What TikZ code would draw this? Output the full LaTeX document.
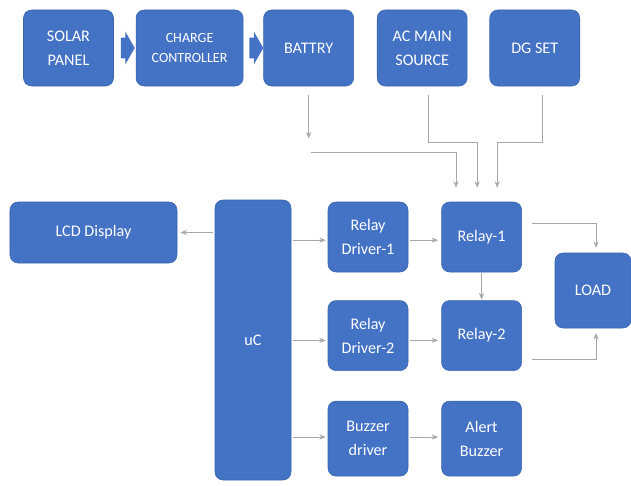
\documentclass[tikz,border=0pt]{standalone}
\usepackage{fontspec}
\setmainfont{Carlito}
\usetikzlibrary{arrows.meta, positioning, calc, shapes.arrows}
\definecolor{boxblue}{HTML}{4472C4}
\definecolor{boxedge}{HTML}{3A64AD}
\definecolor{wiregray}{HTML}{A5A7AD}

\begin{document}
\begin{tikzpicture}[
	bluebox/.style={rectangle, draw=boxedge, fill=boxblue, rounded corners=0.2cm, text=white, minimum height=1.9cm, minimum width=2.25cm, align=center, inner sep=0pt, font=\fontsize{11.5}{17}\selectfont},
	drvbox/.style={bluebox, minimum height=1.75cm, minimum width=2cm},
	blockarrow/.style={single arrow, fill=boxblue, draw=none, inner sep=0pt, text height=0.25cm, text depth=0.25cm, minimum height=0.35cm, single arrow head extend=0.15cm, single arrow tip angle=120},
	link/.style={-{Stealth[length=1.6mm, width=1.3mm]}, draw=wiregray, line width=0.6pt},
	node distance=0.55cm
	]
	\useasboundingbox (0,0) rectangle (15.775,-12.125);

	% sources
	\node[bluebox] (solar) at (1.7125,-1.2) {SOLAR\\PANEL};
	\node[bluebox, minimum width=2.675cm, font=\fontsize{10}{14}\selectfont, right=of solar] (charge-ctrl) {CHARGE\\CONTROLLER};
	\node[bluebox, right=0.5cm of charge-ctrl] (battery) {BATTRY};
	\node[bluebox, right=0.575cm of battery] (ac-main) {AC MAIN\\SOURCE};
	\node[bluebox, right=of ac-main] (dg-set) {DG SET};

	\node[blockarrow] (arr-1) at ($(solar.east)!0.5!(charge-ctrl.west)$) {};
	\node[blockarrow] (arr-2) at ($(charge-ctrl.east)!0.5!(battery.west)$) {};

	% controller side
	\node[bluebox, minimum width=4.175cm, minimum height=1.525cm] (lcd) at (2.3375,-5.8125) {LCD Display};
	\node[bluebox, minimum width=1.9cm, minimum height=7cm] (uc) at (6.325,-8.5) {uC};
	\node[drvbox] (rd-1) at (9.2,-5.925) {Relay\\Driver-1};
	\node[drvbox, below=0.7cm of rd-1] (rd-2) {Relay\\Driver-2};
	\node[drvbox, minimum height=1.875cm, below=0.75cm of rd-2] (bz-drv) {Buzzer\\driver};
	\node[drvbox, right=0.825cm of rd-1] (relay-1) {Relay-1};
	\node[drvbox, right=0.825cm of rd-2] (relay-2) {Relay-2};
	\node[drvbox, minimum height=1.875cm, right=0.825cm of bz-drv] (alert-bz) {Alert\\Buzzer};
	\node[bluebox, minimum width=1.9cm, minimum height=1.875cm] (load) at (14.825,-7.2625) {LOAD};

	\draw[link, shorten <=0.05cm, shorten >=0.08cm] (uc.west |- lcd.east) -- (lcd.east);
	\draw[link, shorten <=0.05cm, shorten >=0.05cm] ([yshift=-0.08cm]uc.east |- rd-1.west) -- ([yshift=-0.08cm]rd-1.west);
	\draw[link, shorten <=0.05cm, shorten >=0.05cm] ([yshift=-0.12cm]uc.east |- rd-2.west) -- ([yshift=-0.12cm]rd-2.west);
	\draw[link, shorten <=0.05cm, shorten >=0.05cm] ([yshift=0.04cm]uc.east |- bz-drv.west) -- ([yshift=0.04cm]bz-drv.west);
	\draw[link, shorten <=0.05cm, shorten >=0.08cm] ([yshift=-0.08cm]rd-1.east) -- ([yshift=-0.08cm]relay-1.west);
	\draw[link, shorten <=0.05cm, shorten >=0.08cm] ([yshift=-0.12cm]rd-2.east) -- ([yshift=-0.12cm]relay-2.west);
	\draw[link, shorten <=0.05cm, shorten >=0.08cm] ([yshift=0.04cm]bz-drv.east) -- ([yshift=0.04cm]alert-bz.west);
	\draw[link, shorten <=0.02cm, shorten >=0.02cm] (relay-1) -- (relay-2);

	% supply lines to relay-1
	\draw[link] ([yshift=-0.225cm]battery.south) -- ([yshift=-1.3cm]battery.south);
	\draw[link] ([xshift=0.07cm,yshift=-1.65cm]battery.south) -| ([xshift=-0.64cm,yshift=0.35cm]relay-1.north);
	\draw[link] ([xshift=0.15cm,yshift=-0.225cm]ac-main.south) |- ([xshift=-0.11cm,yshift=1.475cm]relay-1.north) -- ([xshift=-0.11cm,yshift=0.35cm]relay-1.north);
	\draw[link] ([xshift=0.2cm,yshift=-0.225cm]dg-set.south) |- ([xshift=0.39cm,yshift=1.475cm]relay-1.north) -- ([xshift=0.39cm,yshift=0.35cm]relay-1.north);

	% outputs to load
	\draw[link] ([xshift=0.25cm,yshift=0.35cm]relay-1.east) -| ([xshift=0.075cm,yshift=0.12cm]load.north);
	\draw[link] ([xshift=0.25cm,yshift=-0.6cm]relay-2.east) -| ([xshift=0.075cm,yshift=-0.12cm]load.south);
\end{tikzpicture}
\end{document}
